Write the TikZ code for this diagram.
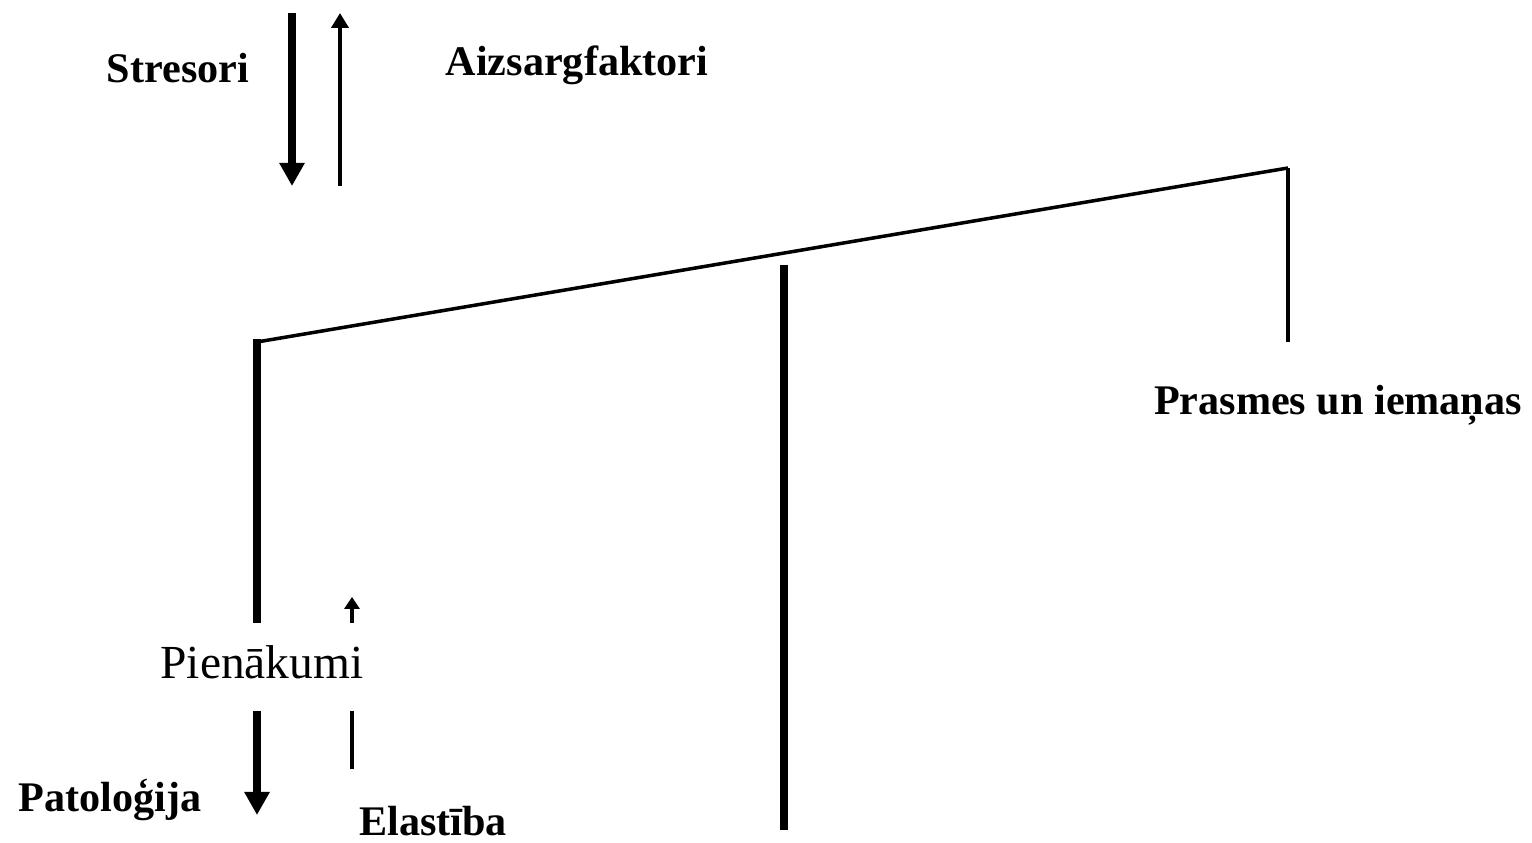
\documentclass[tikz,border=0pt]{standalone}
\usepackage{fontspec}
\setmainfont{Liberation Serif}
\usetikzlibrary{arrows.meta}
\tikzset{
  lbl/.style={font=\bfseries\fontsize{24}{28}\selectfont,inner sep=0pt},
  bigarrow/.style={line width=4.5pt,-{Triangle[length=0.46cm,width=0.48cm]}},
  thinarrow/.style={line width=2.3pt,-{Triangle[length=0.30cm,width=0.34cm]}},
  smallarrow/.style={line width=2.3pt,-{Triangle[length=0.24cm,width=0.30cm]}}
}
\begin{document}
\begin{tikzpicture}[x=1cm,y=1cm,line join=miter,line cap=butt]
  \useasboundingbox (0,0) rectangle (30.64,16.86);

  % ---- stresori e aizsargfaktori in alto -----------------------------------
  \coordinate (strTop) at (5.84,16.60);
  \coordinate (strBot) at (5.84,13.14);
  \coordinate (aizBot) at (6.80,13.14);
  \coordinate (aizTop) at (6.80,16.60);
  \draw[bigarrow]  (strTop) -- (strBot);
  \draw[thinarrow] (aizBot) -- (aizTop);
  \node[lbl] (stresori) at (3.56,15.50) {Stresori};
  \node[lbl] (aizsarg) at (11.54,15.56) {Aizsargfaktori};

  % ---- la trave inclinata con i tre sostegni -------------------------------
  \coordinate (beamL) at (5.14,10.02);
  \coordinate (beamR) at (25.76,13.50);
  \coordinate (rightFoot) at (25.76,10.02);
  \coordinate (leftTop) at (5.14,10.08);
  \coordinate (leftFoot) at (5.14,4.40);
  \coordinate (midTop) at (15.68,11.56);
  \coordinate (midFoot) at (15.68,0.26);
  \draw[line width=2pt] (beamL) -- (beamR);
  \draw[line width=2.4pt] (beamR) -- (rightFoot);
  \draw[line width=4pt] (leftTop) -- (leftFoot);
  \draw[line width=4.5pt] (midTop) -- (midFoot);
  \node[lbl] (prasmes) at (26.76,8.76) {Prasmes un iemaņas};

  % ---- pienakumi, patologija ed elastiba -----------------------------------
  \node[font=\fontsize{27}{32}\selectfont,inner sep=0pt] (pienakumi) at (5.24,3.62) {Pienākumi};
  \coordinate (elaUpBot) at (7.04,4.40);
  \coordinate (elaUpTop) at (7.04,4.92);
  \coordinate (elaTop) at (7.04,2.64);
  \coordinate (elaBot) at (7.04,1.48);
  \coordinate (patTop) at (5.14,2.64);
  \coordinate (patBot) at (5.14,0.56);
  \draw[smallarrow] (elaUpBot) -- (elaUpTop);
  \draw[line width=2.3pt] (elaTop) -- (elaBot);
  \draw[bigarrow] (patTop) -- (patBot);
  \node[lbl] (patologija) at (2.20,0.86) {Patoloģija};
  \node[lbl] (elastiba) at (8.66,0.44) {Elastība};

\end{tikzpicture}
\end{document}
